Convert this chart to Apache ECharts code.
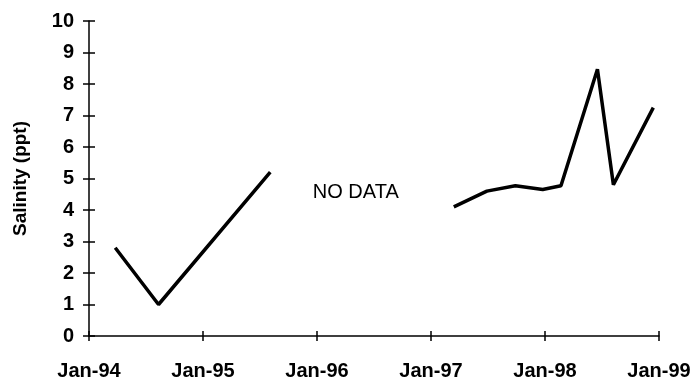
<!DOCTYPE html>
<html>
<head>
<meta charset="utf-8">
<script src="https://cdn.jsdelivr.net/npm/echarts@6/dist/echarts.min.js"></script>
<style>
  html, body { margin: 0; padding: 0; background: #fff; }
  #chart { width: 695px; height: 383px; }
</style>
</head>
<body>
<div id="chart"></div>
<script>
// dates as decimal years, salinity in ppt
const earlyDates = [1994.23, 1994.61, 1995.59];
const earlyValues = [2.8, 1.0, 5.2];
const lateDates = [1997.20, 1997.49, 1997.74, 1997.98, 1998.14, 1998.46, 1998.60, 1998.95];
const lateValues = [4.1, 4.6, 4.77, 4.65, 4.77, 8.47, 4.8, 7.25];
const xTickLabels = ['Jan-94', 'Jan-95', 'Jan-96', 'Jan-97', 'Jan-98', 'Jan-99'];
const noDataAt = [1996.34, 4.55];

const font = 'Liberation Sans, Arial, sans-serif';
const chart = echarts.init(document.getElementById('chart'));

const pair = (xs, ys) => xs.map((x, i) => [x, ys[i]]);

const option = {
    animation: false,
    grid: { left: 89, right: 36, top: 21, bottom: 47, containLabel: false },
    xAxis: [
        {
            type: 'value', min: 1994, max: 1999, interval: 1,
            axisLine: { lineStyle: { color: '#000', width: 1.5 } },
            axisTick: { length: 5, lineStyle: { color: '#000', width: 1.5 } },
            axisLabel: {
                margin: 25, color: '#000', fontFamily: font, fontSize: 20, fontWeight: 'bold',
                formatter: v => xTickLabels[Math.round(v - 1994)]
            },
            splitLine: { show: false }
        },
        {
            type: 'value', min: 1994, max: 1999, interval: 1, position: 'bottom',
            axisLine: { show: false },
            axisTick: { inside: true, length: 5, lineStyle: { color: '#000', width: 1.5 } },
            axisLabel: { show: false },
            splitLine: { show: false }
        }
    ],
    yAxis: [
        {
            type: 'value', min: 0, max: 10, interval: 1,
            name: 'Salinity (ppt)', nameLocation: 'middle', nameGap: 59,
            nameTextStyle: { color: '#000', fontFamily: font, fontSize: 19, fontWeight: 'bold' },
            axisLine: { show: true, lineStyle: { color: '#000', width: 1.5 } },
            axisTick: { show: true, length: 6, lineStyle: { color: '#000', width: 1.5 } },
            axisLabel: { margin: 15, color: '#000', fontFamily: font, fontSize: 20, fontWeight: 'bold' },
            splitLine: { show: false }
        },
        {
            type: 'value', min: 0, max: 10, interval: 1, position: 'left',
            axisLine: { show: false },
            axisTick: { show: true, inside: true, length: 6, lineStyle: { color: '#000', width: 1.5 } },
            axisLabel: { show: false },
            splitLine: { show: false }
        }
    ],
    series: [
        {
            type: 'line', data: pair(earlyDates, earlyValues),
            symbol: 'none', lineStyle: { color: '#000', width: 3.5 }
        },
        {
            type: 'line', data: pair(lateDates, lateValues),
            symbol: 'none', lineStyle: { color: '#000', width: 3.5 },
            markPoint: {
                symbol: 'circle', symbolSize: 1,
                itemStyle: { color: 'rgba(0,0,0,0)' },
                label: {
                    show: true, position: 'inside', formatter: 'NO DATA',
                    color: '#000', fontFamily: font, fontSize: 20
                },
                data: [{ coord: noDataAt }]
            }
        }
    ]
};

chart.setOption(option);
</script>
</body>
</html>
